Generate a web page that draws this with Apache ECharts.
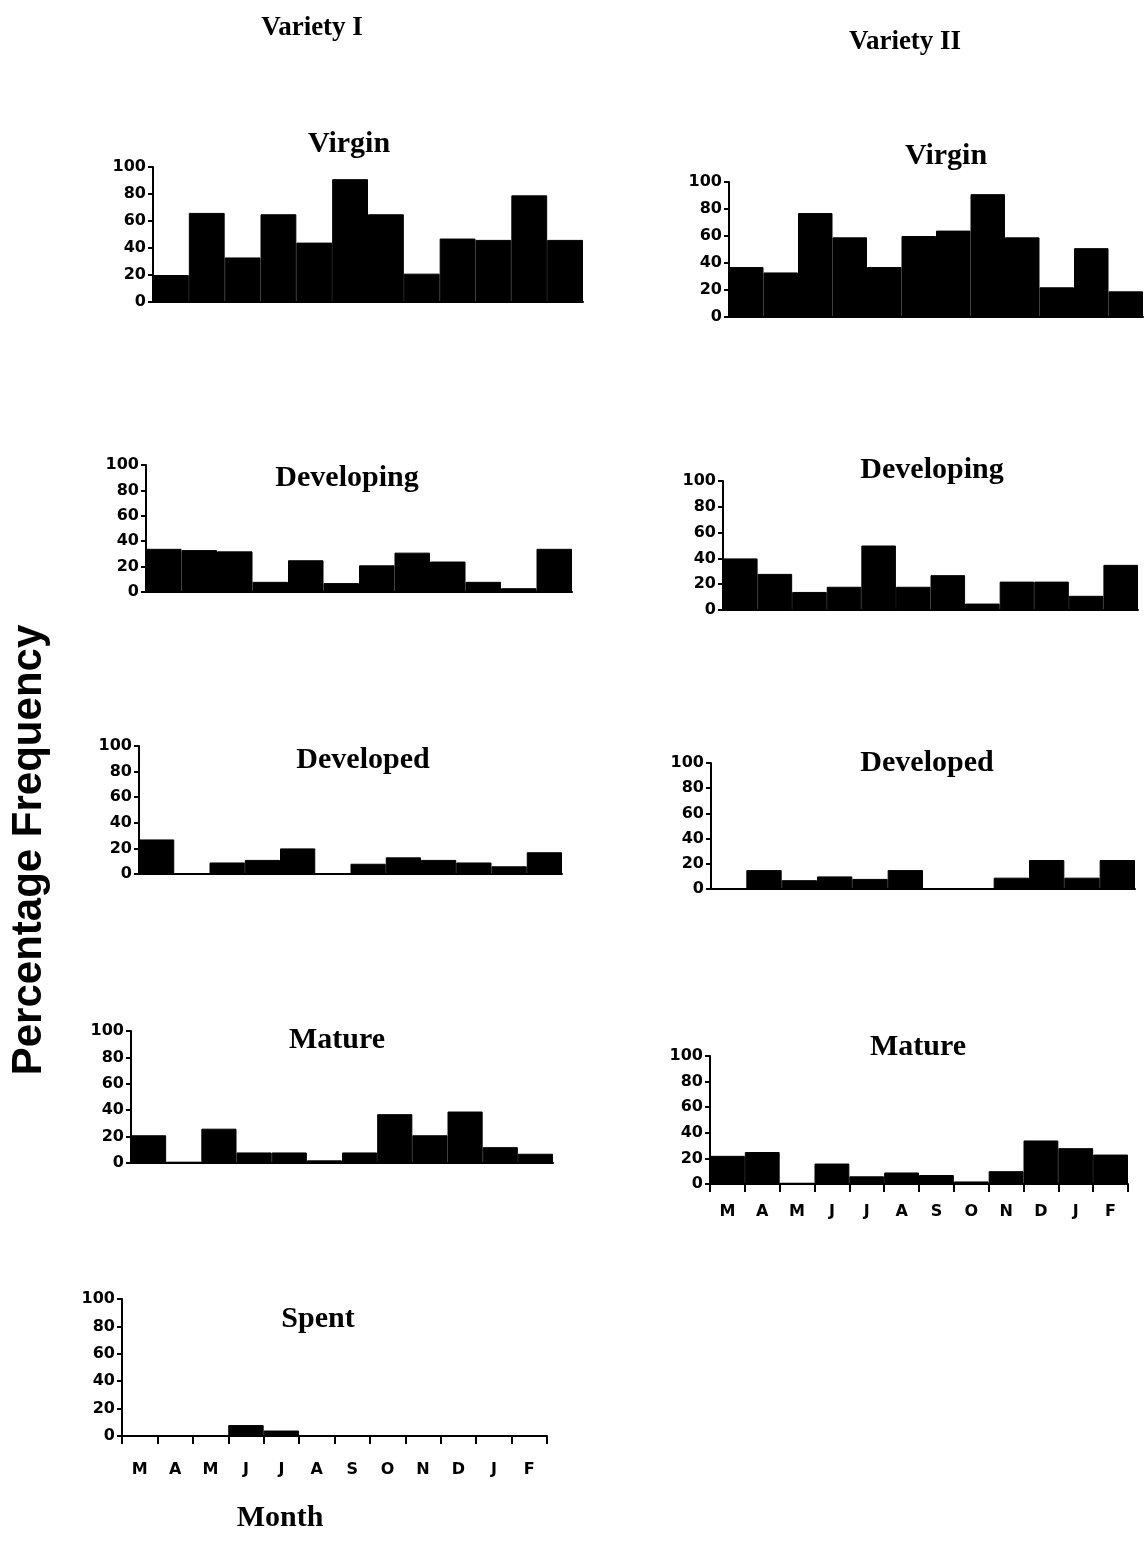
<!DOCTYPE html>
<html><head><meta charset="utf-8">
<script src="https://cdn.jsdelivr.net/npm/echarts@6/dist/echarts.min.js"></script>
<style>html,body{margin:0;padding:0;background:#fff}#c{width:1147px;height:1561px}</style>
</head><body><div id="c"></div>
<script>
// ---- data ----
const months = ['M','A','M','J','J','A','S','O','N','D','J','F'];
const yTicks = [0, 20, 40, 60, 80, 100];

const v1Virgin     = [20, 66, 33, 65, 44, 91, 65, 21, 47, 46, 79, 46];
const v1Developing = [34, 33, 32, 8, 25, 7, 21, 31, 24, 8, 3, 34];
const v1Developed  = [27, 0, 9, 11, 20, 0, 8, 13, 11, 9, 6, 17];
const v1Mature     = [21, 1, 26, 8, 8, 2, 8, 37, 21, 39, 12, 7];
const v1Spent      = [0, 0, 0, 8, 4, 0, 0, 0, 0, 0, 0, 0];

const v2Virgin     = [37, 33, 77, 59, 37, 60, 64, 91, 59, 22, 51, 19];
const v2Developing = [40, 28, 14, 18, 50, 18, 27, 5, 22, 22, 11, 35];
const v2Developed  = [0, 15, 7, 10, 8, 15, 0, 0, 9, 23, 9, 23];
const v2Mature     = [22, 25, 1, 16, 6, 9, 7, 2, 10, 34, 28, 23];

const varietyTitles = ['Variety I', 'Variety II'];
const stageTitles = ['Virgin', 'Developing', 'Developed', 'Mature', 'Spent'];
const yTitle = 'Percentage Frequency';
const xTitle = 'Month';

// ---- layout (positions only) ----
const panels = [
  {t: stageTitles[0], d: v1Virgin,     g: {left:153, top:167, width:430, height:135}, tx:349, ty:144},
  {t: stageTitles[1], d: v1Developing, g: {left:146, top:465, width:426, height:127}, tx:347, ty:478},
  {t: stageTitles[2], d: v1Developed,  g: {left:139, top:746, width:423, height:128}, tx:363, ty:760},
  {t: stageTitles[3], d: v1Mature,     g: {left:131, top:1031, width:422, height:132}, tx:337, ty:1040},
  {t: stageTitles[4], d: v1Spent,      g: {left:122, top:1299, width:425, height:137}, tx:318, ty:1319, lab:true, m:26},
  {t: stageTitles[0], d: v2Virgin,     g: {left:729, top:182, width:414, height:135}, tx:946, ty:156},
  {t: stageTitles[1], d: v2Developing, g: {left:723, top:481, width:415, height:129}, tx:932, ty:470},
  {t: stageTitles[2], d: v2Developed,  g: {left:711, top:763, width:424, height:126}, tx:927, ty:763},
  {t: stageTitles[3], d: v2Mature,     g: {left:710, top:1056, width:418, height:128}, tx:918, ty:1047, lab:true, m:20}
];

const black = '#000';
const grids = [], xAxes = [], yAxes = [], series = [], graphics = [];
panels.forEach((p, i) => {
  grids.push(Object.assign({containLabel:false}, p.g));
  xAxes.push({
    gridIndex: i, type: 'category', data: months, boundaryGap: true,
    axisLine: {show: true, onZero: true, lineStyle: {color: black, width: 2}},
    axisTick: {show: !!p.lab, length: 8, interval: 0, lineStyle: {color: black, width: 2}},
    axisLabel: {show: !!p.lab, interval: 0, margin: p.m || 20, color: black,
      fontFamily: 'DejaVu Sans', fontWeight: 'bold', fontSize: 16},
    splitLine: {show: false}
  });
  yAxes.push({
    gridIndex: i, type: 'value', min: yTicks[0], max: yTicks[yTicks.length-1], interval: yTicks[1]-yTicks[0],
    axisLine: {show: true, lineStyle: {color: black, width: 2}},
    axisTick: {show: true, length: 5, lineStyle: {color: black, width: 2}},
    axisLabel: {color: black, fontFamily: 'DejaVu Sans', fontWeight: 'bold', fontSize: 16, margin: 7},
    splitLine: {show: false}
  });
  series.push({
    type: 'bar', xAxisIndex: i, yAxisIndex: i, data: p.d,
    barCategoryGap: '0%',
    itemStyle: {color: black, borderColor: black, borderWidth: 1},
    silent: true
  });
  graphics.push({type: 'text', x: p.tx, y: p.ty, style: {
    text: p.t, fill: black, font: 'bold 30px "Liberation Serif"',
    align: 'center', verticalAlign: 'middle', textAlign: 'center', textVerticalAlign: 'middle'}});
});

graphics.push({type: 'text', x: 312, y: 28, style: {text: varietyTitles[0], fill: black,
  font: 'bold 27px "Liberation Serif"', align: 'center', verticalAlign: 'middle', textAlign: 'center', textVerticalAlign: 'middle'}});
graphics.push({type: 'text', x: 905, y: 42, style: {text: varietyTitles[1], fill: black,
  font: 'bold 27px "Liberation Serif"', align: 'center', verticalAlign: 'middle', textAlign: 'center', textVerticalAlign: 'middle'}});
graphics.push({type: 'text', x: 280, y: 1518, style: {text: xTitle, fill: black,
  font: 'bold 30px "Liberation Serif"', align: 'center', verticalAlign: 'middle', textAlign: 'center', textVerticalAlign: 'middle'}});
graphics.push({type: 'text', x: 29, y: 850, rotation: Math.PI / 2, style: {text: yTitle, fill: black,
  font: 'bold 42px "Liberation Sans"', align: 'center', verticalAlign: 'middle', textAlign: 'center', textVerticalAlign: 'middle'}});

const chart = echarts.init(document.getElementById('c'), null, {renderer: 'canvas'});
chart.setOption({
  animation: false,
  backgroundColor: '#fff',
  grid: grids, xAxis: xAxes, yAxis: yAxes, series: series,
  graphic: graphics
});
</script>
</body></html>
